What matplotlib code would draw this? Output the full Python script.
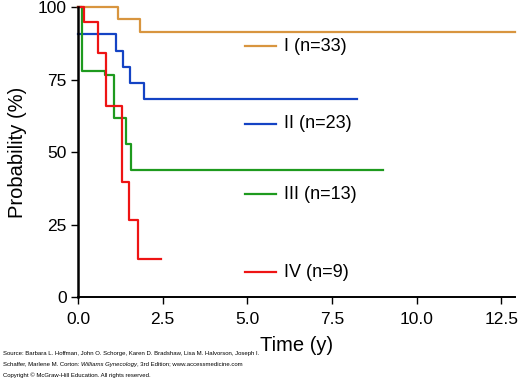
import matplotlib.pyplot as plt
import numpy as np

plt.rcParams["font.family"] = ["Liberation Sans", "DejaVu Sans"]

# step times (y) and survival (%) after each step, last time is end of follow-up
t_I = [0.0, 1.18, 1.82, 12.9]
s_I = [100, 95.9, 91.4, 91.4]
t_II = [0.0, 1.12, 1.32, 1.53, 1.94, 8.24]
s_II = [90.7, 84.8, 79.3, 73.8, 68.3, 68.3]
t_III = [0.0, 0.12, 0.80, 1.06, 1.41, 1.56, 9.0]
s_III = [100, 78.0, 76.6, 61.7, 52.8, 43.8, 43.8]
t_IV = [0.0, 0.17, 0.59, 0.82, 1.29, 1.50, 1.76, 2.44]
s_IV = [100, 94.8, 84.1, 65.9, 39.7, 26.6, 13.1, 13.1]

labels = ["I (n=33)", "II (n=23)", "III (n=13)", "IV (n=9)"]
label_y = [86.5, 59.7, 35.5, 8.6]
colors = ["#D8953F", "#1443C4", "#1E9A1E", "#EE1414"]

x_ticks = [0.0, 2.5, 5.0, 7.5, 10.0, 12.5]
y_ticks = [0, 25, 50, 75, 100]

fig = plt.figure(figsize=(5.2, 3.85), dpi=100)
ax = fig.add_axes([0.15, 0.2286, 0.84, 0.753])

curves = [(t_I, s_I), (t_II, s_II), (t_III, s_III), (t_IV, s_IV)]
for (t, s), c, lab, ly in zip(curves, colors, labels, label_y):
    ax.step(t, s, where="post", color=c, lw=1.6, clip_on=False)
    ax.plot([4.94, 5.85], [ly, ly], color=c, lw=1.6)
    ax.text(6.07, ly, lab, fontsize=13, va="center", ha="left")

ax.set_xlim(0, 12.9)
ax.set_ylim(0, 100)
ax.set_xticks(x_ticks)
ax.set_xticklabels([f"{v:.1f}" for v in x_ticks])
ax.set_yticks(y_ticks)
ax.tick_params(labelsize=12.5, length=5, width=1, direction="out")
ax.tick_params(axis="x", pad=6)
ax.tick_params(axis="y", pad=3)
ax.spines["top"].set_visible(False)
ax.spines["right"].set_visible(False)
ax.spines["left"].set_linewidth(1.8)
ax.spines["bottom"].set_linewidth(1.4)
ax.set_xlabel("Time (y)", fontsize=14.5, labelpad=6)
ax.set_ylabel("Probability (%)", fontsize=14.5, labelpad=8)

# source note
fs = 4.3
fig.text(0.006, 0.083, "Source: Barbara L. Hoffman, John O. Schorge, Karen D. Bradshaw, "
         "Lisa M. Halvorson, Joseph I.", fontsize=fs, va="center")
t1 = fig.text(0.006, 0.054, "Schaffer, Marlene M. Corton: ", fontsize=fs, va="center")
t2 = ax.annotate("Williams Gynecology", xy=(1, 0.5), xycoords=t1, fontsize=fs,
                 style="italic", va="center", annotation_clip=False)
ax.annotate(", 3rd Edition; www.accessmedicine.com", xy=(1, 0.5), xycoords=t2,
            fontsize=fs, va="center", annotation_clip=False)
fig.text(0.006, 0.026, "Copyright \u00a9 McGraw-Hill Education. All rights reserved.",
         fontsize=fs, va="center")

fig.savefig("out.png", dpi=100)
